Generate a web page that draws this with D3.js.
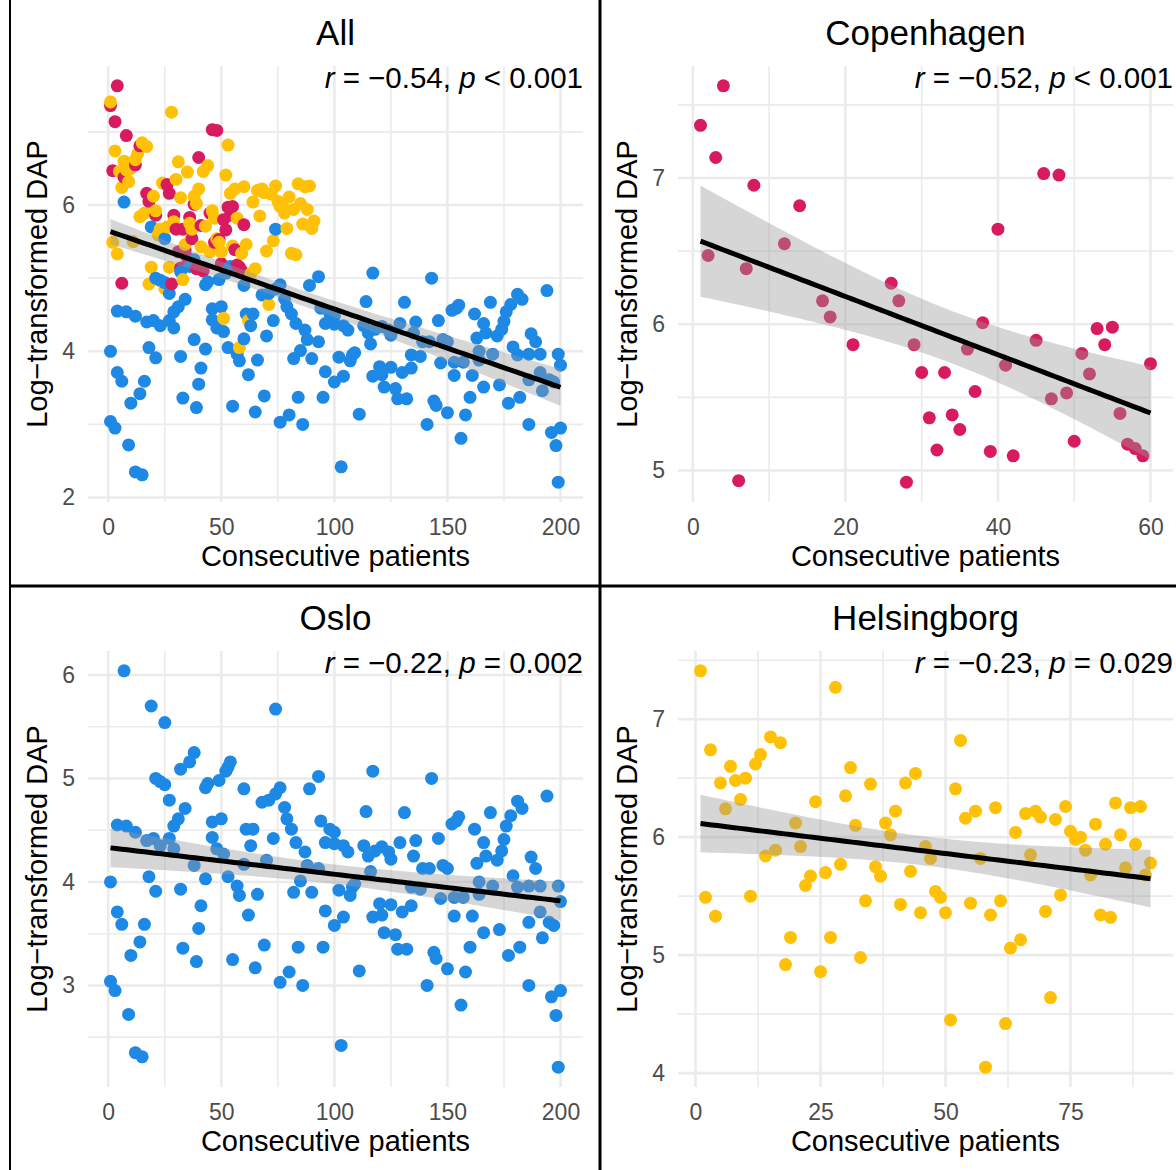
<!DOCTYPE html>
<html>
<head>
<meta charset="utf-8">
<script src="https://cdn.jsdelivr.net/npm/d3@7"></script>
<style>
  body { margin: 0; background: #fff; }
  svg { display: block; font-family: "Liberation Sans", Arial, Helvetica, sans-serif; }
</style>
</head>
<body>
<svg id="chart" width="1176" height="1170"></svg>
<script>
// --- data: [consecutive patient, log-transformed DAP] ---
const copenhagen = [
  [1,7.36],[2,6.47],[3,7.14],[4,7.63],[6,4.93],[7,6.38],[8,6.95],[12,6.55],[14,6.81],[17,6.16],
  [18,6.05],[21,5.86],[26,6.28],[27,6.16],[28,4.92],[29,5.86],[30,5.67],[31,5.36],[32,5.14],[33,5.67],
  [34,5.38],[35,5.28],[36,5.83],[37,5.54],[38,6.01],[39,5.13],[40,6.65],[41,5.72],[42,5.10],[45,5.89],
  [46,7.03],[47,5.49],[48,7.02],[49,5.53],[50,5.20],[51,5.80],[52,5.66],[53,5.97],[54,5.86],[55,5.98],
  [56,5.39],[57,5.18],[58,5.15],[59,5.10],[60,5.73]
];

const helsingborg = [
  [1,7.41],[2,5.49],[3,6.74],[4,5.33],[5,6.46],[6,6.24],[7,6.60],[8,6.48],[9,6.32],[10,6.50],
  [11,5.50],[12,6.62],[13,6.70],[14,5.84],[15,6.85],[16,5.89],[17,6.80],[18,4.92],[19,5.15],[20,6.12],
  [21,5.92],[22,5.59],[23,5.67],[24,6.30],[25,4.86],[26,5.70],[27,5.15],[28,7.27],[29,5.77],[30,6.35],
  [31,6.59],[32,6.10],[33,4.98],[34,5.46],[35,6.45],[36,5.75],[37,5.67],[38,6.12],[39,6.02],[40,6.22],
  [41,5.43],[42,6.46],[43,5.71],[44,6.54],[45,5.36],[46,5.92],[47,5.82],[48,5.54],[49,5.49],[50,5.36],
  [51,4.45],[52,6.41],[53,6.82],[54,6.16],[55,5.44],[56,6.22],[57,5.82],[58,4.05],[59,5.34],[60,6.25],
  [61,5.46],[62,4.42],[63,5.06],[64,6.04],[65,5.13],[66,6.20],[67,5.85],[68,6.22],[69,6.17],[70,5.37],
  [71,4.64],[72,6.15],[73,5.51],[74,6.26],[75,6.05],[76,5.98],[77,6.00],[78,5.89],[79,5.68],[80,6.11],
  [81,5.34],[82,5.94],[83,5.32],[84,6.29],[85,6.02],[86,5.74],[87,6.25],[88,5.94],[89,6.26],[90,5.68],
  [91,5.78]
];

const oslo = [
  [7,6.04],[19,5.70],[25,5.54],[32,5.09],[21,5.00],[23,4.97],[25,4.94],[27,4.79],[34,4.71],[31,4.61],
  [29,4.54],[4,4.55],[8,4.54],[12,4.48],[17,4.40],[20,4.42],[23,4.35],[27,4.42],[29,4.32],[1,4.00],
  [18,4.05],[21,3.91],[32,3.93],[4,3.71],[6,3.59],[16,3.59],[14,3.42],[10,3.29],[33,3.36],[1,3.04],
  [3,2.95],[9,2.72],[12,2.35],[15,2.31],
  [38,5.25],[36,5.16],[44,4.95],[43,4.91],[49,4.98],[53,5.11],[54,5.16],[52,5.07],[60,4.90],[68,4.77],
  [71,4.79],[74,4.85],[76,4.91],[74,5.67],[93,5.02],[89,4.90],[46,4.58],[50,4.61],[46,4.43],[48,4.32],
  [51,4.27],[61,4.51],[64,4.51],[63,4.35],[73,4.42],[78,4.72],[79,4.61],[81,4.51],[83,4.38],[87,4.29],
  [94,4.59],[96,4.38],[88,4.16],[93,4.13],[38,4.16],[60,4.17],[70,4.21],[43,4.03],[53,4.05],[57,3.96],
  [58,3.87],[66,3.88],[41,3.77],[62,3.68],[40,3.55],[82,3.90],[85,4.01],[90,3.90],[96,3.72],[39,3.23],
  [55,3.25],[65,3.17],[69,3.39],[76,3.03],[80,3.13],[86,3.00],[84,3.37],[95,3.37],
  [117,5.07],[143,5.00],[114,4.68],[131,4.67],[98,4.51],[100,4.48],[100,4.37],[104,4.35],[106,4.29],[113,4.35],
  [115,4.25],[118,4.30],[121,4.34],[124,4.29],[125,4.22],[129,4.38],[136,4.40],[135,4.25],[146,4.42],[152,4.56],
  [154,4.59],[116,4.10],[139,4.13],[142,4.13],[148,4.16],[150,4.13],[109,3.98],[108,3.95],[134,3.95],[138,3.93],
  [102,3.92],[107,3.87],[120,3.79],[125,3.78],[134,3.77],[130,3.71],[121,3.68],[117,3.66],[104,3.66],[100,3.58],
  [147,3.84],[153,3.85],[153,3.67],[122,3.51],[127,3.49],[128,3.35],[132,3.35],[144,3.32],[145,3.26],[150,3.16],
  [111,3.14],[141,3.00],[156,2.81],[103,2.42],
  [194,4.83],[181,4.78],[183,4.71],[155,4.63],[169,4.67],[178,4.64],[176,4.54],[162,4.51],[166,4.38],[175,4.41],
  [174,4.30],[167,4.25],[172,4.21],[163,4.18],[187,4.24],[189,4.13],[179,4.06],[164,4.00],[170,3.96],[181,3.95],
  [186,3.96],[191,3.96],[199,3.96],[164,3.88],[157,3.85],[200,3.81],[191,3.71],[161,3.67],[186,3.61],[195,3.61],
  [197,3.58],[166,3.51],[173,3.54],[192,3.46],[160,3.37],[182,3.37],[177,3.29],[158,3.13],[186,3.00],[196,2.89],
  [200,2.95],[198,2.71],[199,2.21]
];

const panelTitles = ["All", "Copenhagen", "Oslo", "Helsingborg"];
const rValues = ["\u22120.54", "\u22120.52", "\u22120.22", "\u22120.23"];
const pOps = ["<", "<", "=", "="];
const pValues = ["0.001", "0.001", "0.002", "0.029"];
const xTickValues = [[0, 50, 100, 150, 200], [0, 20, 40, 60], [0, 50, 100, 150, 200], [0, 25, 50, 75]];
const yTickValues = [[2, 4, 6], [5, 6, 7], [3, 4, 5, 6], [4, 5, 6, 7]];

const CENTRE_COLORS = {
  Copenhagen: "#D81B60",
  Helsingborg: "#FFC107",
  Oslo: "#1E88E5"
};

// --- layout ---
const svg = d3.select("#chart");
const cells = [{ x0: 10, y0: 0 }, { x0: 600, y0: 0 }, { x0: 10, y0: 585 }, { x0: 600, y0: 585 }];
const PL = 78, PR = 573, PT = 66, PB = 502;
const gridColor = "#ebebeb";

const toPoints = (arr, centre) => arr.map(d => ({ x: d[0], y: d[1], centre }));
const cph = toPoints(copenhagen, "Copenhagen");
const hel = toPoints(helsingborg, "Helsingborg");
const osl = toPoints(oslo, "Oslo");
// pooled set, drawn in patient order
const all = d3.sort(cph.concat(hel, osl), d => d.x);

const panelData = [all, cph, osl, hel];

// ordinary least squares + 95% confidence band
function linearFit(pts) {
  const n = pts.length;
  const mx = d3.mean(pts, d => d.x), my = d3.mean(pts, d => d.y);
  const sxx = d3.sum(pts, d => (d.x - mx) ** 2);
  const sxy = d3.sum(pts, d => (d.x - mx) * (d.y - my));
  const b = sxy / sxx, a = my - b * mx;
  const s2 = d3.sum(pts, d => (d.y - a - b * d.x) ** 2) / (n - 2);
  const t = 1.96 + 2.4 / (n - 2);
  const [lo, hi] = d3.extent(pts, d => d.x);
  const xs = d3.range(0, 81).map(k => lo + (hi - lo) * k / 80);
  return xs.map(x => {
    const fit = a + b * x;
    const se = Math.sqrt(s2 * (1 / n + (x - mx) ** 2 / sxx));
    return { x, fit, lo: fit - t * se, hi: fit + t * se };
  });
}

function minorsOf(ticks, domain) {
  const step = ticks[1] - ticks[0];
  const out = [];
  for (let v = ticks[0] - step / 2; v <= domain[1]; v += step) {
    if (v >= domain[0]) out.push(v);
  }
  return out;
}

function expand(ext) {
  const pad = (ext[1] - ext[0]) * 0.05;
  return [ext[0] - pad, ext[1] + pad];
}

panelData.forEach((pts, i) => {
  const g = svg.append("g").attr("transform", `translate(${cells[i].x0},${cells[i].y0})`);

  const x = d3.scaleLinear().domain(expand(d3.extent(pts, d => d.x))).range([PL, PR]);
  const y = d3.scaleLinear().domain(expand(d3.extent(pts, d => d.y))).range([PB, PT]);

  // grid
  const grid = g.append("g");
  grid.selectAll(".gx-minor").data(minorsOf(xTickValues[i], x.domain())).join("line")
    .attr("x1", d => x(d)).attr("x2", d => x(d)).attr("y1", PT).attr("y2", PB)
    .attr("stroke", gridColor).attr("stroke-width", 1.6);
  grid.selectAll(".gy-minor").data(minorsOf(yTickValues[i], y.domain())).join("line")
    .attr("y1", d => y(d)).attr("y2", d => y(d)).attr("x1", PL).attr("x2", PR)
    .attr("stroke", gridColor).attr("stroke-width", 1.6);
  grid.selectAll(".gx").data(xTickValues[i]).join("line")
    .attr("x1", d => x(d)).attr("x2", d => x(d)).attr("y1", PT).attr("y2", PB)
    .attr("stroke", gridColor).attr("stroke-width", 2.6);
  grid.selectAll(".gy").data(yTickValues[i]).join("line")
    .attr("y1", d => y(d)).attr("y2", d => y(d)).attr("x1", PL).attr("x2", PR)
    .attr("stroke", gridColor).attr("stroke-width", 2.6);

  // points
  g.append("g").selectAll("circle").data(pts).join("circle")
    .attr("cx", d => x(d.x)).attr("cy", d => y(d.y)).attr("r", 6.5)
    .attr("fill", d => CENTRE_COLORS[d.centre]);

  // smoother
  const band = linearFit(pts);
  g.append("path").datum(band)
    .attr("d", d3.area().x(d => x(d.x)).y0(d => y(d.lo)).y1(d => y(d.hi)))
    .attr("fill", "#999999").attr("fill-opacity", 0.4);
  g.append("path").datum(band)
    .attr("d", d3.line().x(d => x(d.x)).y(d => y(d.fit)))
    .attr("fill", "none").attr("stroke", "#000").attr("stroke-width", 5);

  // axes (labels only)
  const xAxis = g.append("g").attr("transform", `translate(0,${PB})`)
    .call(d3.axisBottom(x).tickValues(xTickValues[i]).tickFormat(d3.format("d")).tickSize(0).tickPadding(17));
  const yAxis = g.append("g").attr("transform", `translate(${PL},0)`)
    .call(d3.axisLeft(y).tickValues(yTickValues[i]).tickFormat(d3.format("d")).tickSize(0).tickPadding(13));
  [xAxis, yAxis].forEach(ax => {
    ax.select(".domain").remove();
    ax.selectAll("text").attr("fill", "#4d4d4d").style("font-size", "23px")
      .style("font-family", "'Liberation Sans', Arial, sans-serif");
  });

  // titles
  g.append("text").attr("x", (PL + PR) / 2).attr("y", 45).attr("text-anchor", "middle")
    .style("font-size", "35px").attr("fill", "#000").text(panelTitles[i]);
  g.append("text").attr("x", (PL + PR) / 2).attr("y", 566).attr("text-anchor", "middle")
    .style("font-size", "29px").attr("fill", "#000").text("Consecutive patients");
  g.append("text").attr("transform", `translate(37,${(PT + PB) / 2}) rotate(-90)`)
    .attr("text-anchor", "middle").style("font-size", "29px").attr("fill", "#000")
    .text("Log\u2212transformed DAP");

  // correlation label
  const ann = g.append("text").attr("x", PR).attr("y", 88).attr("text-anchor", "end")
    .style("font-size", "29.5px").attr("fill", "#000");
  ann.append("tspan").style("font-style", "italic").text("r");
  ann.append("tspan").text(` = ${rValues[i]}, `);
  ann.append("tspan").style("font-style", "italic").text("p");
  ann.append("tspan").text(` ${pOps[i]} ${pValues[i]}`);
});

// panel separators
svg.append("line").attr("x1", 10).attr("x2", 10).attr("y1", 0).attr("y2", 1170)
  .attr("stroke", "#000").attr("stroke-width", 2);
svg.append("line").attr("x1", 600).attr("x2", 600).attr("y1", 0).attr("y2", 1170)
  .attr("stroke", "#000").attr("stroke-width", 3);
svg.append("line").attr("x1", 10).attr("x2", 1176).attr("y1", 586).attr("y2", 586)
  .attr("stroke", "#000").attr("stroke-width", 3);
</script>
</body>
</html>
